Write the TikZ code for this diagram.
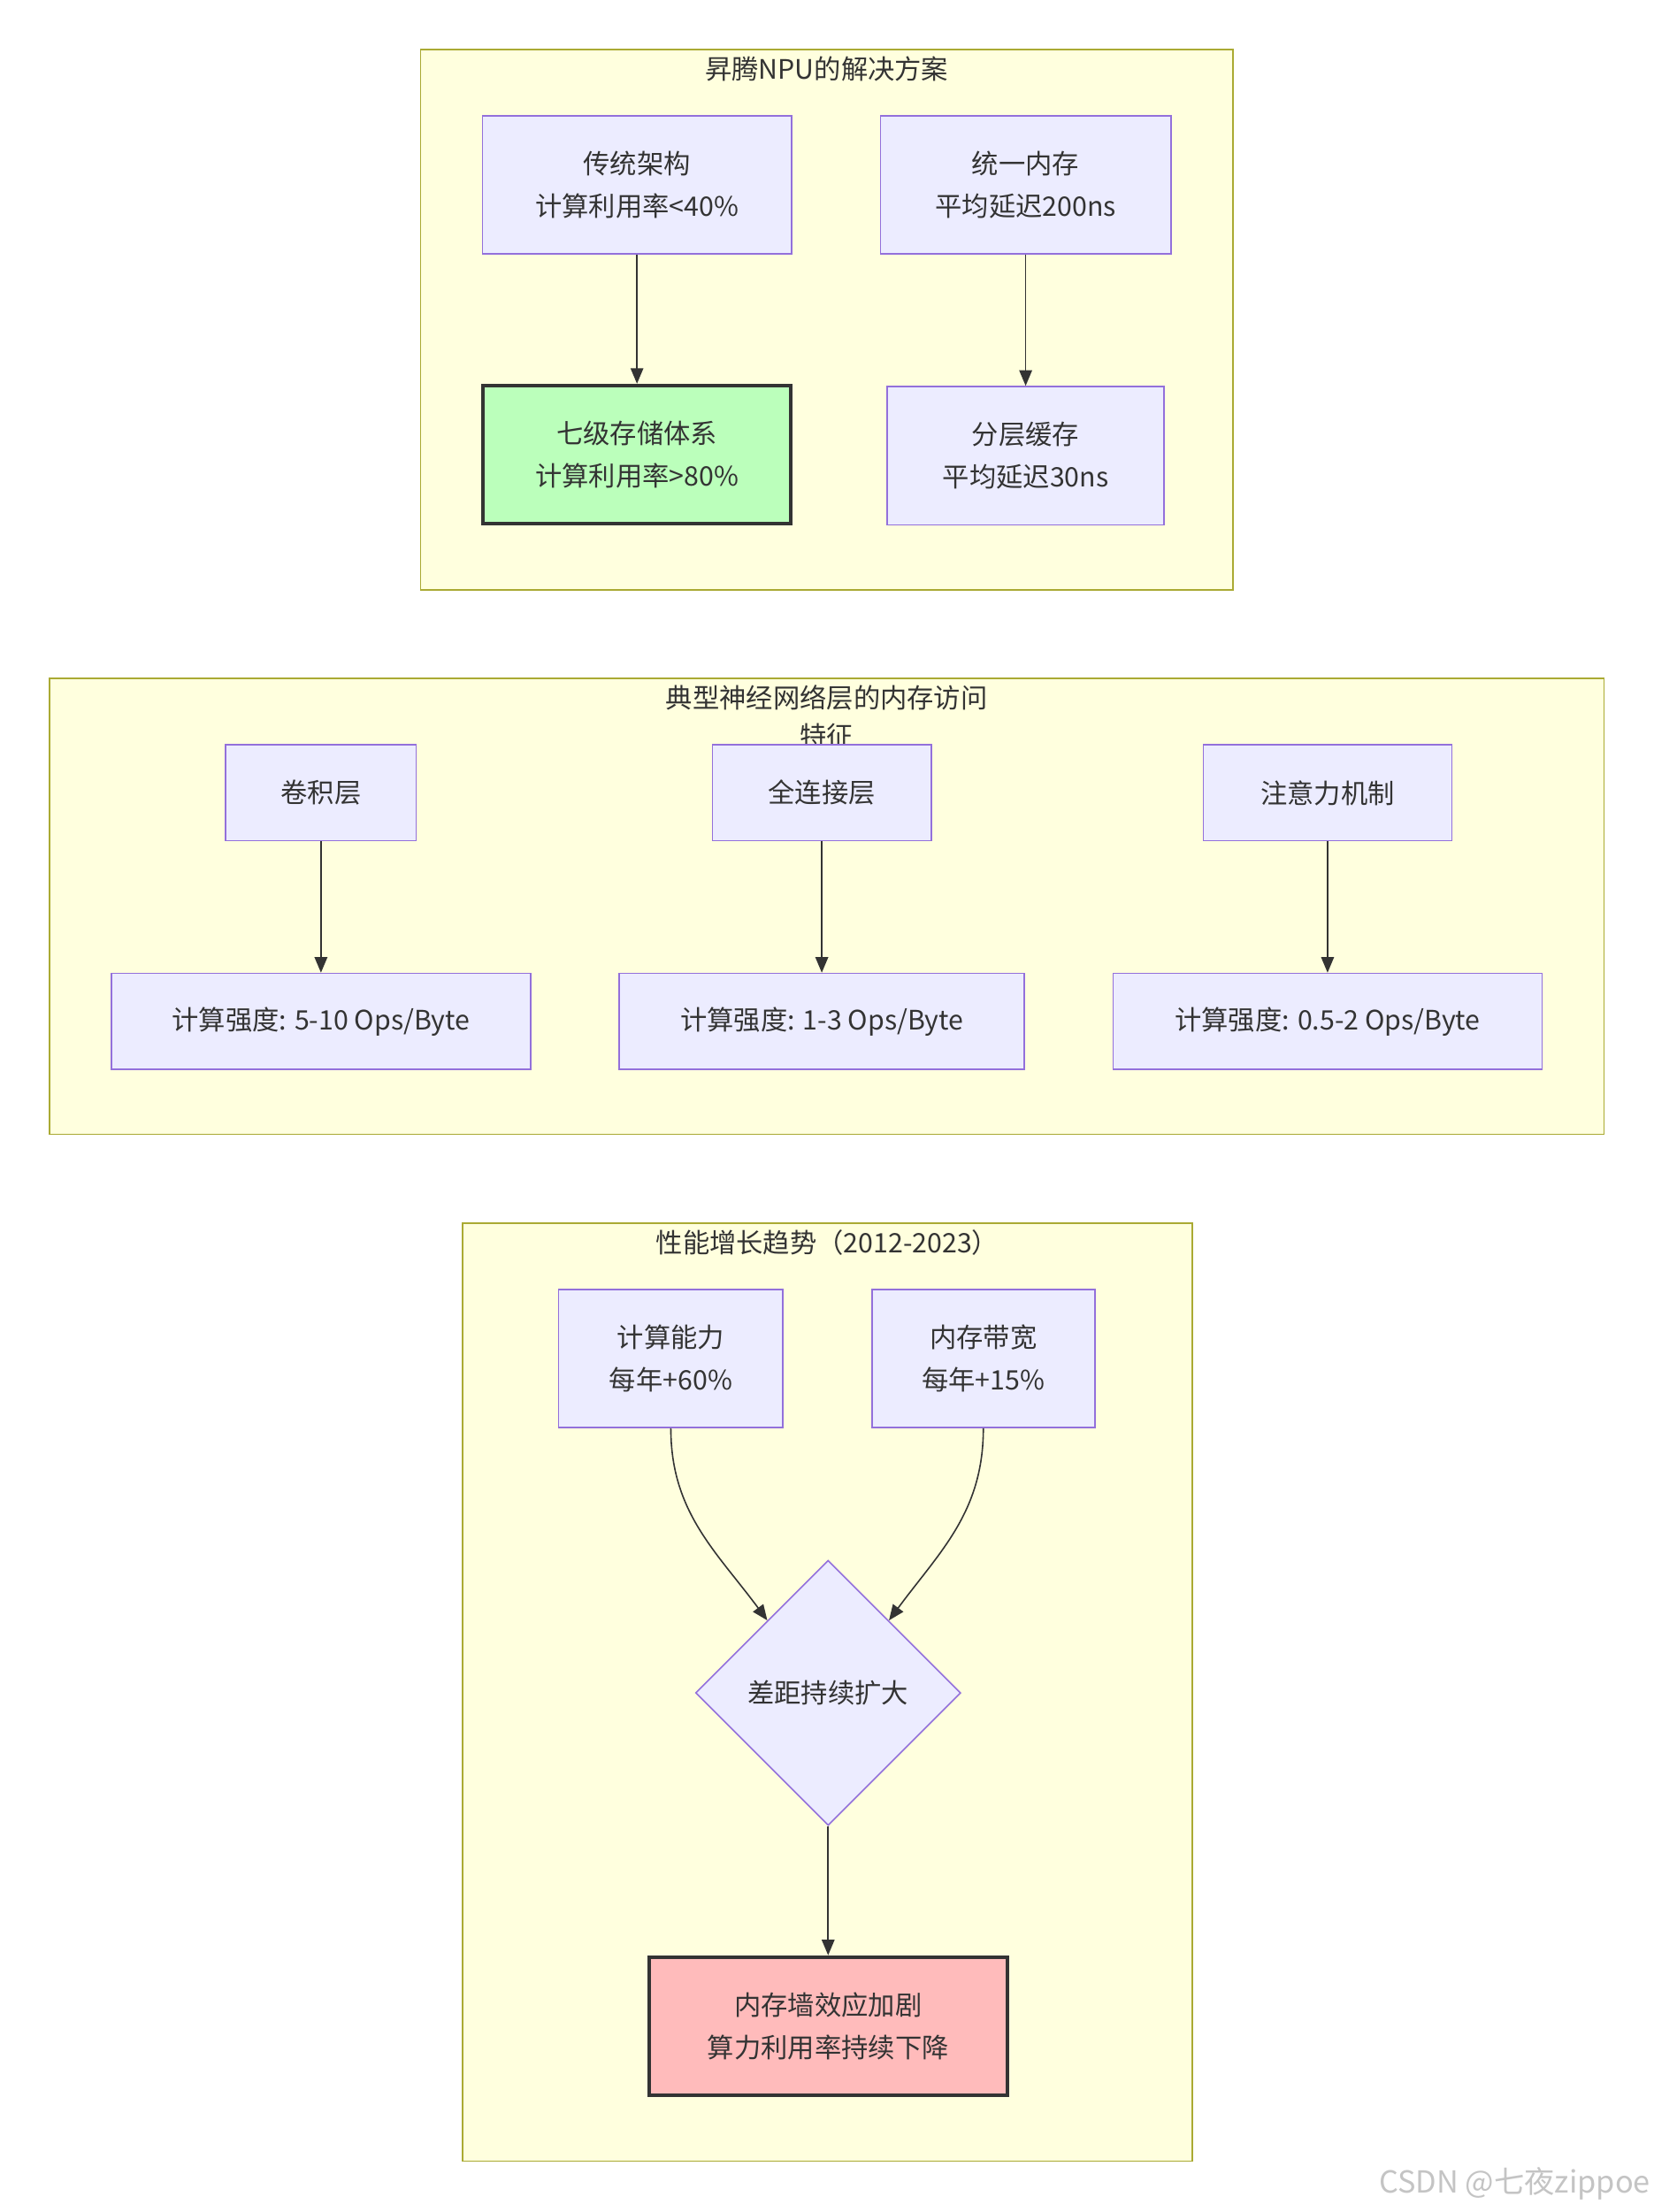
\documentclass[tikz,border=0pt]{standalone}
\usepackage{fontspec}
\setmainfont{Noto Sans CJK SC}
\usetikzlibrary{arrows.meta,positioning,shapes.geometric}

\definecolor{groupbg}{HTML}{FFFFDE}
\definecolor{groupline}{HTML}{AAAA33}
\definecolor{boxbg}{HTML}{ECECFF}
\definecolor{boxline}{HTML}{9370DB}
\definecolor{ink}{HTML}{333333}
\definecolor{goodbg}{HTML}{BBFFBB}
\definecolor{badbg}{HTML}{FFBBBB}
\definecolor{markgray}{HTML}{C4C4C4}

\tikzset{
  group/.style={fill=groupbg,draw=groupline,line width=1pt},
  grouptitle/.style={align=center,inner sep=0pt},
  box/.style={rectangle,fill=boxbg,draw=boxline,line width=1pt,
              align=center,inner sep=0pt,minimum height=98pt},
  flatbox/.style={box,minimum height=68pt},
  goodbox/.style={box,fill=goodbg,draw=ink,line width=2.5pt},
  badbox/.style={box,fill=badbg,draw=ink,line width=2.5pt},
  choice/.style={diamond,fill=boxbg,draw=boxline,line width=1pt,
                 inner sep=0pt,minimum width=188pt,minimum height=188pt},
  flow/.style={->,draw=ink,line width=1pt}
}

\begin{document}
\begin{tikzpicture}[x=1pt,y=-1pt,>={Stealth[length=11pt,width=9pt,inset=0pt]},
                    node distance=93pt,font=\fontsize{19}{30}\selectfont,text=ink]

        \fill[white] (0,0) rectangle (1172,1568);
        \useasboundingbox (0,0) rectangle (1172,1568);

        % Ascend NPU solution
        \draw[group] (298,35) rectangle (874,418);
        \node[grouptitle] (t1) at (586,49) {昇腾NPU的解决方案};

        \node[box,minimum width=219pt] (trad) at (451.5,131) {传统架构\\计算利用率<40\%};
        \node[box,minimum width=206pt] (unimem) at (727,131) {统一内存\\平均延迟200ns};
        \node[goodbox,minimum width=218pt] (seven) [below=91.5pt of trad] {七级存储体系\\计算利用率>80\%};
        \node[box,minimum width=196pt] (cache) [below=of unimem] {分层缓存\\平均延迟30ns};

        \draw[flow] (trad) -- (seven);
        \draw[flow] (unimem) -- (cache);

        % typical layers
        \draw[group] (35,481) rectangle (1137,804);
        \node[grouptitle,font=\fontsize{19}{27}\selectfont] (t2) at (586,508) {典型神经网络层的内存访问\\特征};

        \node[flatbox,minimum width=135pt] (conv) at (227.5,562) {卷积层};
        \node[flatbox,minimum width=155pt] (fc) at (582.5,562) {全连接层};
        \node[flatbox,minimum width=176pt] (attn) at (941,562) {注意力机制};
        \node[flatbox,minimum width=297pt] (convci) [below=of conv] {计算强度: 5-10 Ops/Byte};
        \node[flatbox,minimum width=287pt] (fcci) [below=of fc] {计算强度: 1-3 Ops/Byte};
        \node[flatbox,minimum width=304pt] (attnci) [below=of attn] {计算强度: 0.5-2 Ops/Byte};

        \draw[flow] (conv) -- (convci);
        \draw[flow] (fc) -- (fcci);
        \draw[flow] (attn) -- (attnci);

        % growth trend
        \draw[group] (328,867) rectangle (845,1532);
        \node[grouptitle] (t3) at (586.5,881) {性能增长趋势（2012-2023）};

        \node[box,minimum width=159pt] (compute) at (475.5,963) {计算能力\\每年+60\%};
        \node[box,minimum width=158pt] (bandw) at (697,963) {内存带宽\\每年+15\%};
        \node[choice] (gap) at (587,1200) {差距持续扩大};
        \node[badbox,minimum width=254pt] (wall) [below=91.5pt of gap] {内存墙效应加剧\\算力利用率持续下降};

        \draw[flow] (compute.south) .. controls (475.5,1072) and (508,1100) .. (gap.130);
        \draw[flow] (bandw.south) .. controls (697,1072) and (666,1100) .. (gap.50);
        \draw[flow] (gap) -- (wall);

        \node[anchor=east,inner sep=0pt,text=markgray,font=\fontsize{21.5}{24}\selectfont] (mark) at (1170,1548) {CSDN @七夜zippoe};

\end{tikzpicture}
\end{document}
